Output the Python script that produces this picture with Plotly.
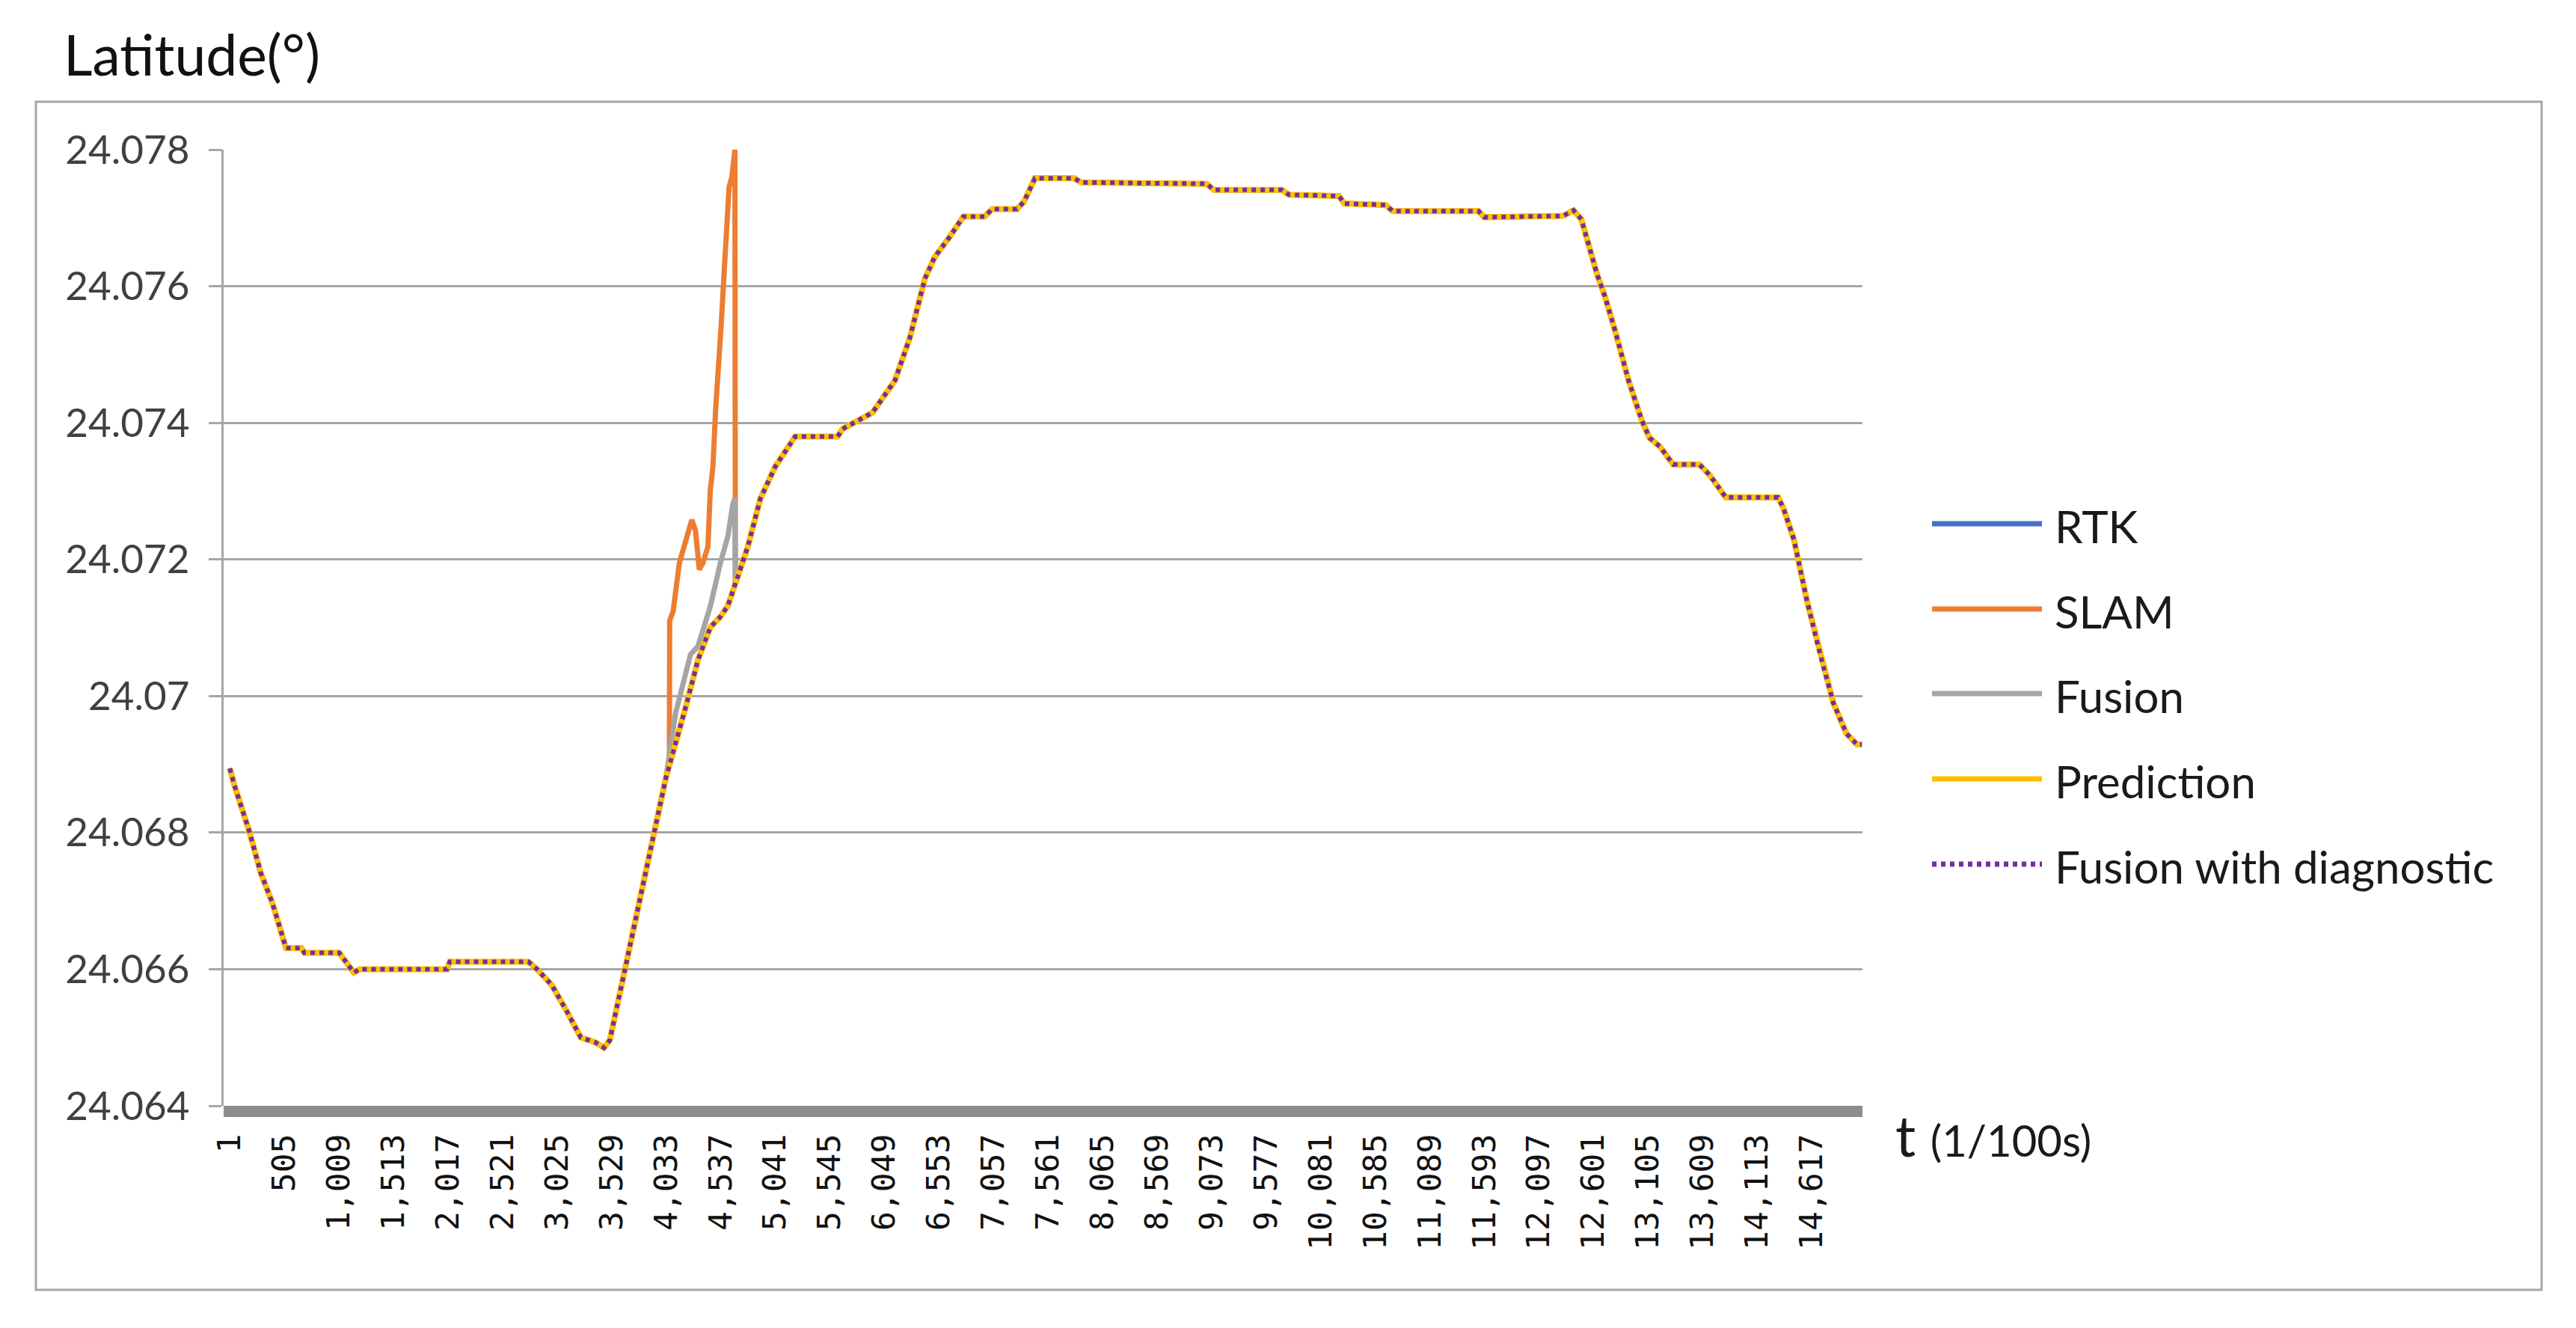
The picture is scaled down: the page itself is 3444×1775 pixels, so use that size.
import plotly.graph_objects as go

# sample index (1/100 s) and latitude
t_main = [1, 44, 179, 287, 394, 502, 520, 663, 690, 1012, 1147, 1201, 2007, 2034, 2760,
          2840, 2975, 3109, 3244, 3378, 3458, 3512, 3646, 3781, 3915, 4030, 4212, 4327,
          4442, 4534, 4603, 4672, 4788, 4903, 5041, 5225, 5617, 5663, 5939, 6147, 6285,
          6423, 6515, 6647, 6779, 6977, 7044, 7274, 7340, 7440, 7803, 7869, 9027, 9093,
          9721, 9787, 10250, 10299, 10680, 10745, 11539, 11593, 12320, 12417, 12489,
          12635, 12707, 12804, 12925, 13046, 13119, 13216, 13337, 13580, 13677, 13822,
          14307, 14356, 14453, 14574, 14695, 14817, 14938, 15035, 15080]
lat_main = [24.06894, 24.06869, 24.06803, 24.06741, 24.06697, 24.06639, 24.06631, 24.06631,
            24.06624, 24.06624, 24.06595, 24.06600, 24.06600, 24.06611, 24.06611, 24.06600,
            24.06577, 24.06540, 24.06500, 24.06493, 24.06485, 24.06496, 24.06595, 24.06697,
            24.06796, 24.06880, 24.06983, 24.07053, 24.07101, 24.07116, 24.07132, 24.07164,
            24.07219, 24.07289, 24.07336, 24.07380, 24.07380, 24.07391, 24.07415, 24.07462,
            24.07525, 24.07611, 24.07643, 24.07671, 24.07702, 24.07702, 24.07713, 24.07713,
            24.07724, 24.07758, 24.07758, 24.07752, 24.07750, 24.07741, 24.07741, 24.07734,
            24.07732, 24.07721, 24.07719, 24.07710, 24.07710, 24.07701, 24.07703, 24.07711,
            24.07698, 24.07617, 24.07585, 24.07533, 24.07462, 24.07404, 24.07378, 24.07365,
            24.07339, 24.07339, 24.07323, 24.07291, 24.07291, 24.07275, 24.07229, 24.07139,
            24.07061, 24.06990, 24.06945, 24.06929, 24.06929]

# SLAM drifts away between ~4030 and 4672, then snaps back
t_slam_gap = [4030, 4063, 4065, 4097, 4155, 4235, 4270, 4304, 4339, 4373, 4419, 4440,
              4465, 4490, 4511, 4540, 4568, 4590, 4614, 4640, 4660, 4668, 4672]
lat_slam_gap = [24.06880, 24.06905, 24.07110, 24.07124, 24.07195, 24.07242, 24.07258,
                24.07242, 24.07185, 24.07195, 24.07219, 24.07300, 24.07336, 24.07420,
                24.07462, 24.07540, 24.07619, 24.07680, 24.07745, 24.07760, 24.07800,
                24.07800, 24.07164]

# Fusion over the same stretch
t_fusion_gap = [4030, 4120, 4212, 4258, 4327, 4442, 4534, 4603, 4649, 4668, 4672]
lat_fusion_gap = [24.06880, 24.06975, 24.07038, 24.07061, 24.07073, 24.07132, 24.07195,
                  24.07234, 24.07281, 24.07290, 24.07164]

x_ticks = [1, 505, 1009, 1513, 2017, 2521, 3025, 3529, 4033, 4537, 5041, 5545, 6049, 6553,
           7057, 7561, 8065, 8569, 9073, 9577, 10081, 10585, 11089, 11593, 12097, 12601,
           13105, 13609, 14113, 14617]
y_ticks = [24.064, 24.066, 24.068, 24.07, 24.072, 24.074, 24.076, 24.078]
y_ticktext = ["24.064", "24.066", "24.068", "24.07", "24.072", "24.074", "24.076", "24.078"]

names = ["RTK", "SLAM", "Fusion", "Prediction", "Fusion with diagnostic"]
colors = ["#4472C4", "#ED7D31", "#A5A5A5", "#FFC000", "#7030A0"]
dashes = ["solid", "solid", "solid", "solid", "6px,6px"]
widths = [7, 7, 7, 8, 6]


def splice(t_gap, lat_gap):
    # main curve before the gap, the diverging stretch, then main curve again
    t = [a for a in t_main if a < t_gap[0]] + t_gap + [a for a in t_main if a > t_gap[-1]]
    lat = ([b for a, b in zip(t_main, lat_main) if a < t_gap[0]] + lat_gap +
           [b for a, b in zip(t_main, lat_main) if a > t_gap[-1]])
    return t, lat


series = [
    (t_main, lat_main),
    splice(t_slam_gap, lat_slam_gap),
    splice(t_fusion_gap, lat_fusion_gap),
    (t_main, lat_main),
    (t_main, lat_main),
]

fig = go.Figure()
for (t, lat), name, c, d, w in zip(series, names, colors, dashes, widths):
    fig.add_trace(go.Scatter(x=t, y=lat, mode="lines", name=name, showlegend=False,
                             line=dict(color=c, width=w, dash=d)))

# plot area in pixels: x 299..2490, y 200..1478
W, H = 3444, 1775
L, R, T, B = 299, 2490, 200, 1478
pw, ph = R - L, B - T


def px(x):
    return (x - L) / pw


def py(y):
    return (B - y) / ph


shapes = [
    # outer chart frame
    dict(type="rect", xref="paper", yref="paper", x0=px(48), x1=px(3398), y0=py(1724), y1=py(136),
         line=dict(color="#A6A6A6", width=3), layer="below"),
    # heavy category axis band
    dict(type="rect", xref="paper", yref="paper", x0=0, x1=1, y0=py(1493), y1=0,
         line=dict(width=0), fillcolor="#8C8C8C", layer="above"),
]

annotations = []
leg_y = [700, 814, 927, 1041, 1155]
for name, c, d, yy in zip(names, colors, dashes, leg_y):
    shapes.append(dict(type="line", xref="paper", yref="paper", x0=px(2583), x1=px(2730),
                       y0=py(yy), y1=py(yy), line=dict(color=c, width=7, dash=d)))
    annotations.append(dict(xref="paper", yref="paper", x=px(2745), y=py(yy + 3), xanchor="left",
                            yanchor="middle", text=name, showarrow=False,
                            font=dict(family="Lato", size=60, color="#1A1A1A")))

annotations.append(dict(xref="paper", yref="paper", x=px(2532), y=py(1516), xanchor="left",
                        yanchor="middle", showarrow=False,
                        text="t <span style='font-size:58px'>(1/100s)</span>",
                        font=dict(family="Lato", size=76, color="#1A1A1A")))

fig.update_layout(
    width=W, height=H,
    margin=dict(l=L, r=W - R, t=T, b=H - B, pad=0),
    paper_bgcolor="white", plot_bgcolor="white",
    title=dict(text="Latitude(°)", x=85 / W, xanchor="left", xref="container",
               y=1 - 75 / H, yanchor="middle",
               font=dict(family="Lato", size=75, color="#111111")),
    shapes=shapes, annotations=annotations,
    showlegend=False,
)
fig.update_xaxes(
    range=[-56, 15086], tickvals=x_ticks, tickformat=",d", tickangle=-90,
    showgrid=False, zeroline=False, showline=False, ticks="",
    ticklabelstandoff=28,
    tickfont=dict(family="DejaVu Sans Mono", size=43, color="#111111"),
)
fig.update_yaxes(
    range=[24.064, 24.078], tickvals=y_ticks, ticktext=y_ticktext,
    showgrid=True, gridcolor="#A6A6A6", gridwidth=3, zeroline=False,
    showline=True, linecolor="#A6A6A6", linewidth=3,
    ticks="outside", ticklen=17, tickwidth=3, tickcolor="#A6A6A6",
    ticklabelstandoff=15,
    tickfont=dict(family="Lato", size=53, color="#404040"),
)

fig.write_html("out.html", config={"displayModeBar": False},
               post_script="document.body.style.margin='0';")
